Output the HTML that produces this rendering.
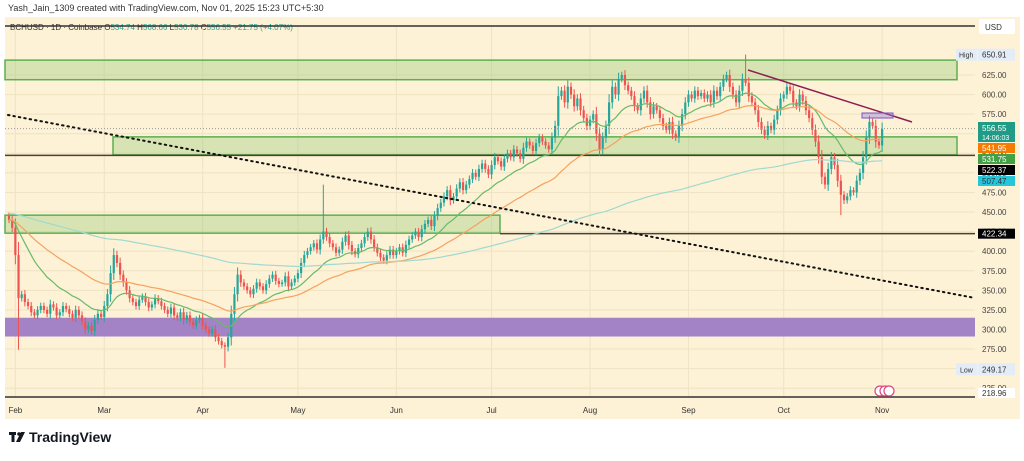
<!DOCTYPE html>
<html><head><meta charset="utf-8"><style>
body{margin:0;width:1024px;height:456px;background:#fff;font-family:"Liberation Sans",sans-serif;overflow:hidden}
svg text{font-family:"Liberation Sans",sans-serif}
</style></head><body>
<svg id="c" width="1024" height="456">
<rect x="5" y="17" width="1015" height="402" fill="#fdf1d6"/>
<text x="8" y="11" font-size="9" fill="#333">Yash_Jain_1309 created with TradingView.com, Nov 01, 2025 15:23 UTC+5:30</text>
<text x="10" y="30" font-size="8" fill="#333">BCHUSD · 1D · Coinbase  O<tspan fill="#26a69a">534.74</tspan> H<tspan fill="#26a69a">568.66</tspan> L<tspan fill="#26a69a">530.78</tspan> C<tspan fill="#26a69a">556.55 +21.75 (+4.07%)</tspan></text>
<g id="grid"></g>
<g id="zones"></g>
<g id="candles"></g>
<g id="mas"></g>
<g id="overlay"></g>
<g id="axis"></g>
<g>
<rect x="9" y="432" width="7" height="3" fill="#131722"/><rect x="11.5" y="432" width="3" height="10" fill="#131722"/>
<circle cx="19" cy="434" r="1.8" fill="#131722"/><polygon points="21,432 25,432 20,442 16,442" fill="#131722"/>
<text x="29" y="442" font-size="14" font-weight="bold" fill="#131722">TradingView</text>
</g>
</svg>
<script>
const closes=[440,430,395,340,345,335,330,322,318,325,
330,325,320,332,328,318,322,330,326,320,
315,325,318,310,300,305,298,312,320,316,
330,345,372,395,385,370,360,350,340,335,
330,338,342,335,328,332,340,336,330,325,
320,328,318,315,322,312,318,310,305,312,
315,305,300,295,300,290,285,280,278,290,
320,345,370,360,355,350,345,352,360,355,
350,358,365,370,362,358,360,368,355,360,
365,372,385,395,400,405,410,402,415,425,
418,410,405,398,402,412,420,408,400,396,
404,410,418,425,415,405,398,392,388,395,
402,395,400,405,398,408,415,420,425,418,
428,435,440,432,445,455,462,470,478,465,
470,480,488,478,485,492,500,495,505,512,
505,498,510,520,515,508,518,525,520,530,
525,518,532,540,535,528,538,545,540,535,
530,545,560,598,605,590,610,600,585,595,
580,570,560,568,575,550,530,545,560,590,
610,600,620,625,612,605,598,585,580,595,
605,590,575,585,580,570,560,555,565,550,
545,560,575,590,600,595,605,598,602,595,
600,590,605,598,610,620,625,610,600,590,
605,620,615,598,590,580,565,555,548,560,
555,568,580,595,600,610,605,590,585,600,
592,580,570,555,540,520,495,485,505,520,
510,490,472,465,470,478,475,490,500,520,
545,565,560,540,535,556];
const extremeIdx=[3,68,99,232,262];
const extremeVal=[274,251,485,651,446];
const priceTicks=[625,600,575,550,525,500,475,450,425,400,375,350,325,300,275,250,225];
const monthLabels=["Feb","Mar","Apr","May","Jun","Jul","Aug","Sep","Oct","Nov"];
const monthIdx=[2,30,61,91,122,152,183,214,244,275];
const NS="http://www.w3.org/2000/svg";
const X=i=>9+i*3.175, Y=p=>75+(625-p)*0.783;
function mk(tag,at,parent){const e=document.createElementNS(NS,tag);for(const k in at)e.setAttribute(k,at[k]);document.getElementById(parent).appendChild(e);return e;}
// grid
priceTicks.forEach(p=>{const l=mk('line',{x1:5,x2:975,y1:Y(p),y2:Y(p),stroke:'#efe3c4','stroke-width':1},'grid');

});
monthIdx.forEach(i=>{const l=mk('line',{x1:X(i),x2:X(i),y1:26,y2:397,stroke:'#efe3c4'},'grid');

});
// zones
const z=[[5,Y(644),952,Y(619)],[113,Y(546),844,Y(523)],[5,Y(446),495,Y(423)]];
z.forEach(a=>{const r=mk('rect',{x:a[0],y:a[1],width:a[2],height:a[3]-a[1],fill:'rgba(120,190,90,0.28)',stroke:'#5cb04f','stroke-width':1.5},'zones');

});
let r=mk('rect',{x:5,y:Y(315),width:970,height:Y(291)-Y(315),fill:'#a383c6'},'zones');


[[5,975,Y(522.37),'#4a3f30'],[500,975,Y(422.34),'#4a3f30'],[5,975,26,'#333'],[5,975,397,'#333']].forEach(a=>{const l=mk('line',{x1:a[0],x2:a[1],y1:a[2],y2:a[2],stroke:a[3],'stroke-width':1.5},'zones');

});
// candles
for(let i=0;i<closes.length;i++){
 const c=closes[i],o=i?closes[i-1]:c+5;
 let hi=Math.max(o,c)+3+Math.abs(c-o)*0.25, lo=Math.min(o,c)-3-Math.abs(c-o)*0.25;
 const k=extremeIdx.indexOf(i); if(k>=0){if(extremeVal[k]>c)hi=extremeVal[k];else lo=extremeVal[k];}
 const col=c>=o?'#26a69a':'#ef5350', x=X(i);
 const g=mk('g',{},'candles');
 
 
 const w=document.createElementNS(NS,'line');w.setAttribute('x1',x);w.setAttribute('x2',x);w.setAttribute('y1',Y(hi));w.setAttribute('y2',Y(lo));w.setAttribute('stroke',col);g.appendChild(w);
 const b=document.createElementNS(NS,'rect');b.setAttribute('x',x-1.1);b.setAttribute('width',2.2);b.setAttribute('y',Y(Math.max(o,c)));b.setAttribute('height',Math.max(1,Y(Math.min(o,c))-Y(Math.max(o,c))));b.setAttribute('fill',col);g.appendChild(b);
}
// moving averages
function ema(n,seed){let v=seed,out=[];closes.forEach(c=>{v=v+(c-v)*2/(n+1);out.push(v);});return out;}
[[20,440,'#66bb6a','ma-20'],[50,440,'#f5a25d','ma-50'],[200,448,'#9fdad0','ma-200']].forEach(m=>{
 const d=ema(m[0],m[1]).map((v,i)=>X(i)+','+Y(v)).join(' ');
 const p=mk('polyline',{points:d,fill:'none',stroke:m[2],'stroke-width':1.2},'mas');
 
 
});
// overlay drawings
let l=mk('line',{x1:8,y1:115,x2:975,y2:298,stroke:'#111','stroke-width':2,'stroke-dasharray':'1.5 4','stroke-linecap':'round'},'overlay');


l=mk('line',{x1:748,y1:70,x2:912,y2:122,stroke:'#8e1e52','stroke-width':1.5},'overlay');


l=mk('rect',{x:862,y:113,width:31,height:5,fill:'rgba(150,120,220,0.4)',stroke:'#7a55c8'},'overlay');


l=mk('line',{x1:5,x2:975,y1:Y(556.55),y2:Y(556.55),stroke:'#999','stroke-dasharray':'1 2'},'overlay');


// axis
const A=document.getElementById('axis');
function txt(x,y,s,fill,size,anchor,name){const t=mk('text',{x:x,y:y,'font-size':size||8,fill:fill||'#333','text-anchor':anchor||'start'},'axis');t.textContent=s;

return t;}
priceTicks.forEach(p=>txt(982,Y(p)+3,p.toFixed(2),'#444',8,'start','price-tick'));
monthLabels.forEach((m,i)=>txt(X(monthIdx[i]),413,m,'#333',8,'middle','date-tick'));
let u=mk('rect',{x:979,y:19,width:36,height:15,fill:'#fff',rx:2},'axis');


txt(985,30,'USD','#333',8,'start','currency-label');
function tag(y,h,fill,s,color,name){const b=mk('rect',{x:978,y:y,width:37,height:h,fill:fill},'axis');


txt(982,y+h/2+3,s,color,8,'start',name+'-text');}
tag(Y(650.91)-6,12,'#e3ecf7','650.91','#333','high-label');
u=mk('rect',{x:956,y:Y(650.91)-6,width:21,height:12,fill:'#e3ecf7'},'axis');


txt(959,Y(650.91)+3,'High','#333',7,'start','high-text');
tag(122,20,'#1f9b86','','#fff','last-price-label');
txt(982,131,'556.55','#fff',8,'start','last-price');
txt(982,140,'14:06:03','#fff',7,'start','countdown');
tag(143,10,'#f57c00','541.95','#fff','ma50-label');
tag(154,10,'#43a047','531.75','#fff','ma20-label');
tag(165,10,'#000','522.37','#fff','level-label');
tag(176,10,'#26c6da','507.47','#333','ma200-label');
tag(Y(422.34)-5,10,'#000','422.34','#fff','level-422-label');
tag(Y(249.17)-6,12,'#e3ecf7','249.17','#333','low-label');
u=mk('rect',{x:956,y:Y(249.17)-6,width:21,height:12,fill:'#e3ecf7'},'axis');


txt(960,Y(249.17)+3,'Low','#333',7,'start','low-text');
tag(388,10,'#fff','218.96','#333','last-low-label');
[880,885,889].forEach(x=>{const c=mk('circle',{cx:x,cy:391,r:5,fill:'#fff',stroke:'#e0457b','stroke-width':1.2},'axis');

});
</script>
</body></html>
